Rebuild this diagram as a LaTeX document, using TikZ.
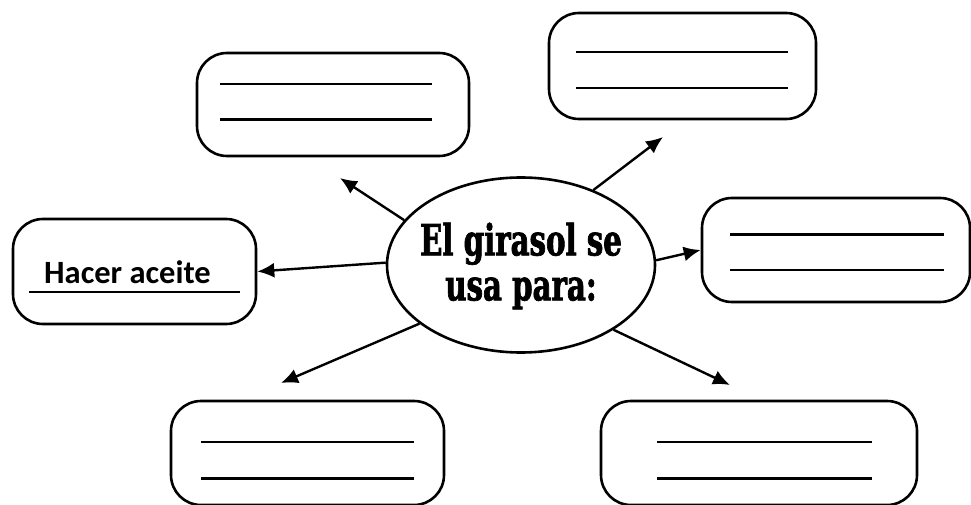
\documentclass[tikz,border=0pt]{standalone}
\usepackage{fontspec}
\newfontfamily\slabfont[FakeStretch=0.68,BoldFeatures={FakeBold=1.6}]{DejaVu Serif}
\newfontfamily\notefont{Carlito}
\usetikzlibrary{arrows.meta,shapes.geometric}

\begin{document}
\begin{tikzpicture}[x=1pt,y=1pt,
  box/.style={draw, line width=2.6pt, rounded corners=30pt, inner sep=0pt},
  arr/.style={line width=2.4pt, -{Latex[length=17pt,width=15pt]}},
  thinline/.style={line width=1.5pt},
  thickline/.style={line width=3pt}]
  \useasboundingbox (0,0) rectangle (971,504);
  \clip (0,0) rectangle (971,504);

  \node[draw, ellipse, line width=2.6pt, minimum width=268pt, minimum height=175pt,
    inner sep=0pt] (girasol) at (521,239) {};
  \node[align=center, inner sep=0pt, font=\slabfont\bfseries\fontsize{43}{45}\selectfont]
    (girtext) at ([yshift=-1pt]girasol.center) {El girasol se\\usa para:};

  \node[box, minimum width=272pt, minimum height=103pt] (boxTL) at (333,399.5) {};
  \node[box, minimum width=267pt, minimum height=106pt] (boxTR) at (682.5,438) {};
  \node[box, minimum width=268pt, minimum height=104pt] (boxR) at (836,254) {};
  \node[box, minimum width=243pt, minimum height=105pt] (boxL) at (134.5,232.5) {};
  \node[box, minimum width=273pt, minimum height=104pt] (boxBL) at (307.5,51) {};
  \node[box, minimum width=316pt, minimum height=104pt] (boxBR) at (759,51) {};

  \draw[thinline] ([shift={(-113,20.5)}]boxTL.center) -- ([shift={(99,20.5)}]boxTL.center);
  \draw[thickline] ([shift={(-113,-15.5)}]boxTL.center) -- ([shift={(99,-15.5)}]boxTL.center);
  \draw[thinline] ([shift={(-106.5,14)}]boxTR.center) -- ([shift={(105.5,14)}]boxTR.center);
  \draw[thinline] ([shift={(-106.5,-22)}]boxTR.center) -- ([shift={(105.5,-22)}]boxTR.center);
  \draw[thickline] ([shift={(-106,16)}]boxR.center) -- ([shift={(108,16)}]boxR.center);
  \draw[thinline] ([shift={(-106,-20)}]boxR.center) -- ([shift={(108,-20)}]boxR.center);
  \draw[thinline] ([shift={(-106.5,11)}]boxBL.center) -- ([shift={(106.5,11)}]boxBL.center);
  \draw[thickline] ([shift={(-106.5,-25)}]boxBL.center) -- ([shift={(106.5,-25)}]boxBL.center);
  \draw[thinline] ([shift={(-102,11)}]boxBR.center) -- ([shift={(113,11)}]boxBR.center);
  \draw[thickline] ([shift={(-102,-25)}]boxBR.center) -- ([shift={(113,-25)}]boxBR.center);

  \node[anchor=base west, inner sep=0pt, font=\notefont\bfseries\fontsize{32.5}{33}\selectfont]
    (aceite) at ([shift={(-90.5,-11.5)}]boxL.center) {Hacer aceite};
  \draw[line width=1.4pt] ([shift={(-105.5,-20.5)}]boxL.center) -- ([shift={(105.5,-20.5)}]boxL.center);

  \coordinate (tTL) at (340,326);
  \coordinate (tTR) at (663,367);
  \coordinate (tBL) at (281,121);
  \coordinate (tBR) at (730,119);

  \draw[arr] (girasol.159) -- (tTL);
  \draw[arr] (girasol.46) -- (tTR);
  \draw[arr] (girasol.2) -- (boxR.west);
  \draw[arr] (girasol.179) -- (boxL.east);
  \draw[arr] (girasol.210) -- (tBL);
  \draw[arr] (girasol.325) -- (tBR);
\end{tikzpicture}
\end{document}
